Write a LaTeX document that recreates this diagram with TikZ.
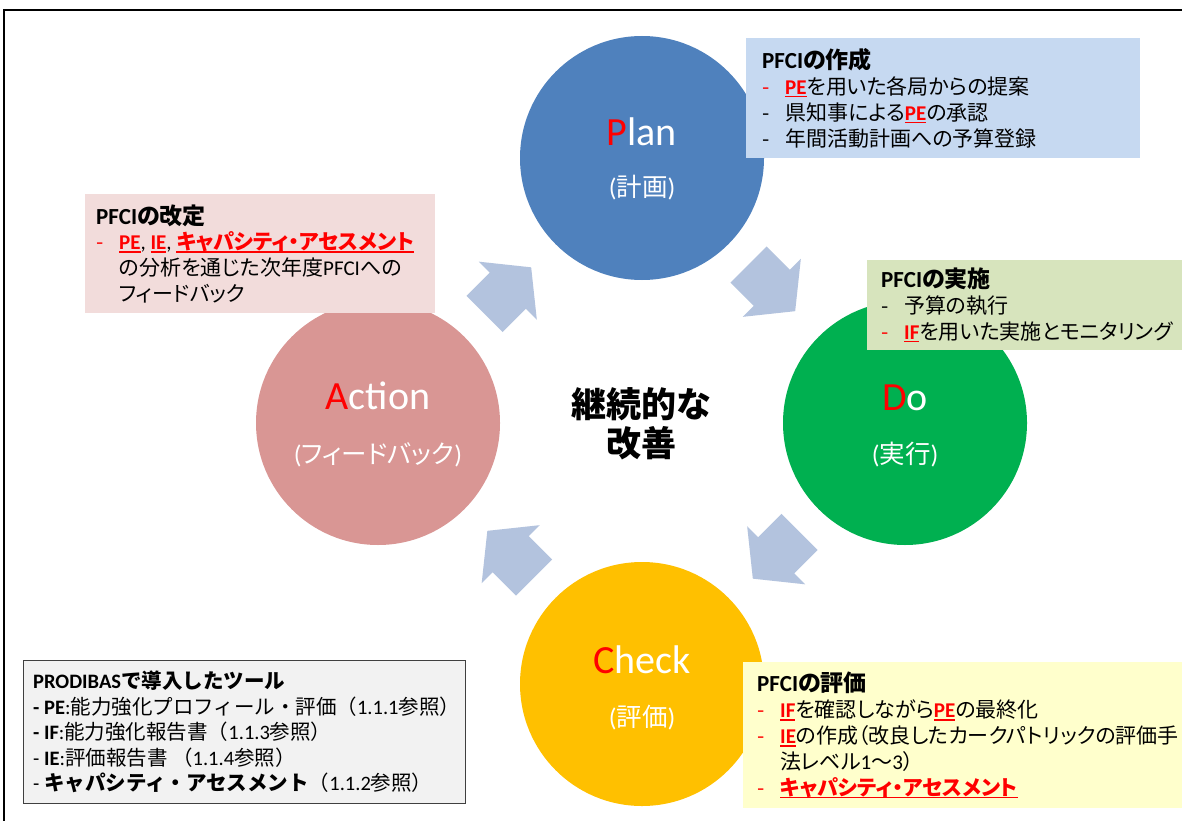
\documentclass[tikz,border=0pt]{standalone}
\usepackage{fontspec}
\setmainfont{Noto Sans CJK JP}[RawFeature=+palt]
\newfontfamily\jpfull{Noto Sans CJK JP}
\newfontfamily\latf{Carlito}
\definecolor{planc}{HTML}{4F81BD}
\definecolor{doc}{HTML}{00B050}
\definecolor{checkc}{HTML}{FFC000}
\definecolor{actc}{HTML}{D99694}
\definecolor{arrc}{HTML}{B3C3DE}
\definecolor{planbg}{HTML}{C6D9F1}
\definecolor{actbg}{HTML}{F2DCDB}
\definecolor{dobg}{HTML}{D7E4BD}
\definecolor{checkbg}{HTML}{FFFFCC}
\definecolor{toolbg}{HTML}{F2F2F2}
\definecolor{toolbd}{HTML}{404040}
\definecolor{myred}{HTML}{FF0000}
\newcommand\redul[1]{\textcolor{myred}{\bfseries\setbox0\hbox{#1}\rlap{\rule[-3pt]{\wd0}{1.6pt}}\box0}}
\newcommand\rdash{\textcolor{myred}{-}}
\newcommand\dsh[1]{\makebox[23pt][l]{#1}}
\newcommand\btitle{\fontsize{23}{26}\selectfont\bfseries}
\newcommand\blockarr[3]{\fill[arrc, shift={(#1,#2)}, rotate=#3] (0,-25.5) -- (33,-25.5) -- (33,-41) -- (66,0) -- (33,41) -- (33,25.5) -- (0,25.5) -- cycle;}
\tikzset{
  cyc/.style={circle, inner sep=0pt, minimum size=244pt},
  lbl/.style={text=white, font=\fontsize{40}{44}\latf\selectfont, inner sep=0pt},
  sublbl/.style={text=white, font=\fontsize{25.5}{28}\selectfont, inner sep=0pt},
  infobox/.style={rectangle, inner sep=0pt, anchor=north west},
  boxtext/.style={anchor=west, align=left, inner sep=0pt, font=\fontsize{21}{25.8}\selectfont}
}
\begin{document}
\begin{tikzpicture}[x=1pt, y=-1pt]
\useasboundingbox (0,0) rectangle (1182,821);
\fill[white] (0,0) rectangle (1182,821);
\draw[line width=2pt] (1182,10) -- (4,10) -- (4,821);

% arrows
\blockarr{748.5}{264.5}{-45}
\blockarr{799.5}{532}{-135}
\blockarr{534}{577.5}{135}
\blockarr{484.5}{314}{45}

% circles
\node[cyc, fill=planc] (plan) at (642,158) {};
\node[cyc, fill=doc] (do) at (905,423) {};
\node[cyc, fill=checkc] (check) at (642,684) {};
\node[cyc, fill=actc] (action) at (378,423) {};

\node[lbl] (planL) at (642,132) {\textcolor{myred}{P}lan};
\node[sublbl] (planS) at (642,188) {{\latf (}計画{\latf )}};
\node[lbl] (doL) at (905,398) {\textcolor{myred}{D}o};
\node[sublbl] (doS) at (905,455) {{\latf (}実行{\latf )}};
\node[lbl] (checkL) at (642,660) {\textcolor{myred}{C}heck};
\node[sublbl] (checkS) at (642,718) {{\latf (}評価{\latf )}};
\node[lbl] (actL) at (378,396) {\textcolor{myred}{A}ction};
\node[sublbl] (actS) at (378,455) {{\latf (}フィードバック{\latf )}};

\node[font=\fontsize{35}{39}\selectfont\bfseries, align=center, inner sep=0pt] (center) at (641,424) {継続的な\\改善};

% info boxes
\node[infobox, fill=planbg, minimum width=394pt, minimum height=120pt] (planbox) at (746,38) {};
\node[boxtext] (plantext) at ([xshift=16pt]planbox.west) {%
{\btitle{\latf PFCI}の作成}\\
\dsh{\rdash}\redul{\latf PE}を用いた各局からの提案\\
\dsh{-}県知事による\redul{\latf PE}の承認\\
\dsh{-}年間活動計画への予算登録};

\node[infobox, fill=actbg, minimum width=350pt, minimum height=119pt] (actbox) at (85,194) {};
\node[boxtext] (acttext) at ([xshift=11pt]actbox.west) {%
{\btitle{\latf PFCI}の改定}\\
\dsh{\rdash}\redul{\latf PE}{\latf ,} \redul{\latf IE}{\latf ,} \redul{キャパシティ・アセスメント}\\
\dsh{}の分析を通じた次年度{\latf PFCI}への\\
\dsh{}フィードバック};

\node[infobox, fill=dobg, minimum width=315pt, minimum height=90pt] (dobox) at (867,260) {};
\node[boxtext] (dotext) at ([xshift=14pt]dobox.west) {%
{\btitle{\latf PFCI}の実施}\\
\dsh{-}予算の執行\\
\dsh{\rdash}\redul{\latf IF}を用いた実施とモニタリング};

\node[infobox, fill=checkbg, minimum width=439pt, minimum height=146pt] (checkbox) at (743,662) {};
\node[boxtext] (checktext) at ([xshift=14pt]checkbox.west) {%
{\btitle{\latf PFCI}の評価}\\
\dsh{\rdash}\redul{\latf IF}を確認しながら\redul{\latf PE}の最終化\\
\dsh{\rdash}\redul{\latf IE}の作成（改良したカークパトリックの評価手\\
\dsh{}法レベル{\latf 1}～{\latf 3}）\\
\dsh{\rdash}\redul{キャパシティ・アセスメント}};

\node[infobox, fill=toolbg, draw=toolbd, line width=1pt, minimum width=442pt, minimum height=143pt] (toolbox) at (23,660) {};
\node[boxtext, font=\fontsize{20.5}{25.6}\jpfull\selectfont] (tooltext) at ([xshift=10pt]toolbox.west) {%
{\bfseries{\latf PRODIBAS}で導入したツール}\\
{\bfseries\latf - PE}{\latf :}能力強化プロフィール・評価（{\latf 1.1.1}参照）\\
{\bfseries\latf - IF}{\latf :}能力強化報告書（{\latf 1.1.3}参照）\\
{\latf - \bfseries IE}{\latf :}評価報告書 （{\latf 1.1.4}参照）\\
{\latf -} \textbf{キャパシティ・アセスメント}（{\latf 1.1.2}参照）};
\end{tikzpicture}
\end{document}
